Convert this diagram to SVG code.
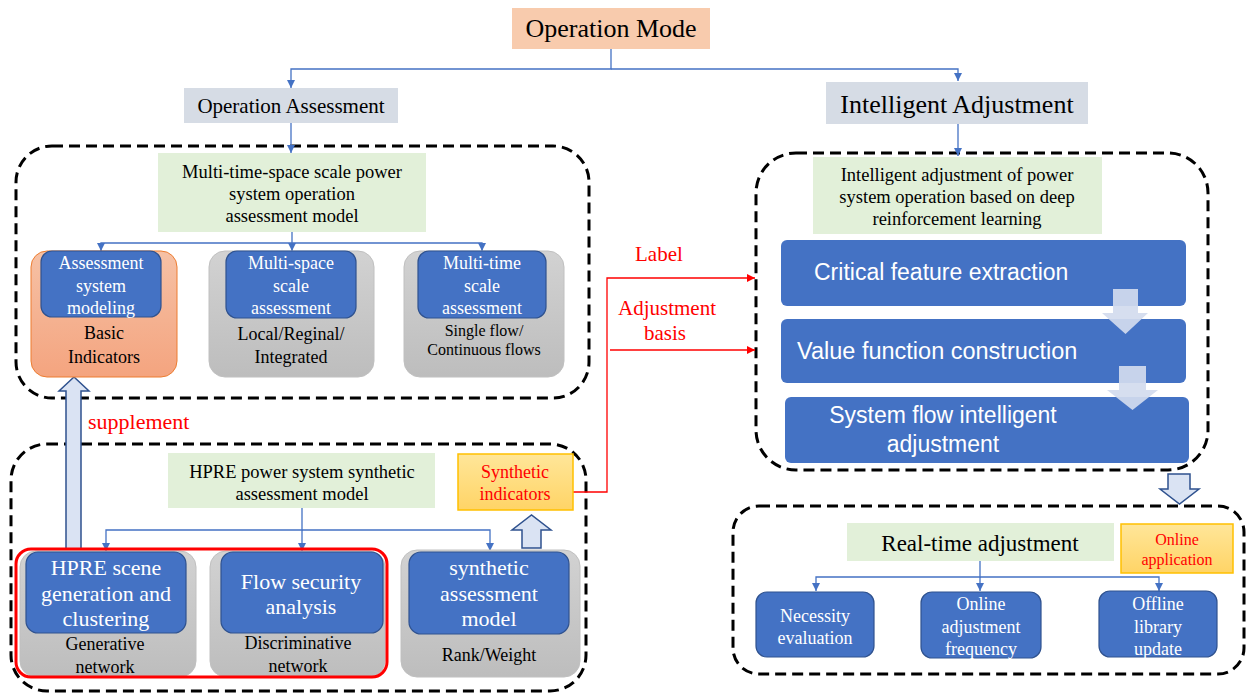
<svg xmlns="http://www.w3.org/2000/svg" width="1249" height="696" viewBox="0 0 1249 696">
<style>
.serif{font-family:"Liberation Serif","Times New Roman",serif;}
.sans{font-family:"Liberation Sans",Arial,sans-serif;}
.c{text-anchor:middle;}
.wt{fill:#FFFFFF;}
.bk{fill:#000000;}
.rd{fill:#FF0000;}
.dash{fill:none;stroke:#000;stroke-width:3;stroke-dasharray:11 6;}
.conn{fill:none;stroke:#4472C4;stroke-width:1.3;}
.red{fill:none;stroke:#FF0000;stroke-width:1.3;}
.blue{fill:#4472C4;stroke:#2F528F;stroke-width:1.2;}
.drl{fill:#4472C4;}
.green{fill:#E2F0D9;}
.head{fill:#D6DCE5;}
.gray{fill:url(#gGray);stroke:#C0C0C0;stroke-width:1;}
.blk{fill:#DAE3F3;stroke:#2F528F;stroke-width:1.5;}
.lite{fill:#D3DBEE;opacity:0.92;}
.yel{fill:url(#gYel);stroke:#FFC000;stroke-width:1.5;}
</style>
<defs>
<linearGradient id="gGray" x1="0" y1="0" x2="0" y2="1"><stop offset="0" stop-color="#D2D2D2"/><stop offset="1" stop-color="#BDBDBD"/></linearGradient>
<linearGradient id="gOr" x1="0" y1="0" x2="0" y2="1"><stop offset="0" stop-color="#F6C1A5"/><stop offset="1" stop-color="#F4A47F"/></linearGradient>
<linearGradient id="gYel" x1="0" y1="0" x2="0" y2="1"><stop offset="0" stop-color="#FFE699"/><stop offset="1" stop-color="#FFD466"/></linearGradient>
<marker id="ab" viewBox="0 0 10 10" refX="10" refY="5" markerWidth="8" markerHeight="8" markerUnits="userSpaceOnUse" orient="auto"><path d="M0,0 L10,5 L0,10 Z" fill="#4472C4"/></marker>
<marker id="ar" viewBox="0 0 10 10" refX="10" refY="5" markerWidth="8" markerHeight="8" markerUnits="userSpaceOnUse" orient="auto"><path d="M0,0 L10,5 L0,10 Z" fill="#FF0000"/></marker>
</defs>
<rect width="1249" height="696" fill="#FFFFFF"/>

<!-- dashed containers -->
<g id="containers">
<rect class="dash" x="16" y="146" width="573" height="252" rx="36"/>
<rect class="dash" x="11" y="444" width="575" height="247" rx="36"/>
<rect class="dash" x="756" y="153" width="452" height="317" rx="40"/>
<rect class="dash" x="733" y="506" width="511" height="168" rx="26"/>
</g>

<!-- connectors -->
<g id="connectors">
<path class="conn" d="M611,49 V69 H291 V88" marker-end="url(#ab)"/>
<path class="conn" d="M611,69 H958 V81" marker-end="url(#ab)"/>
<path class="conn" d="M291,123 V153" marker-end="url(#ab)"/>
<path class="conn" d="M958,124 V156" marker-end="url(#ab)"/>
<path class="conn" d="M292,232 V243 H101 V251" marker-end="url(#ab)"/>
<path class="conn" d="M292,243 V251" marker-end="url(#ab)"/>
<path class="conn" d="M292,243 H482 V251" marker-end="url(#ab)"/>
<path class="conn" d="M302,508 V530 H106 V551" marker-end="url(#ab)"/>
<path class="conn" d="M302,530 V551" marker-end="url(#ab)"/>
<path class="conn" d="M302,530 H490 V551" marker-end="url(#ab)"/>
<path class="conn" d="M980,561 V577 H816 V591" marker-end="url(#ab)"/>
<path class="conn" d="M980,577 V591" marker-end="url(#ab)"/>
<path class="conn" d="M980,577 H1159 V591" marker-end="url(#ab)"/>
<path class="red" d="M573,492 H607 V278 H755" marker-end="url(#ar)"/>
<path class="red" d="M610,350 H755" marker-end="url(#ar)"/>
<polygon class="blk" points="66,549 66,391 59,391 74,377 89,391 81,391 81,549"/>
<polygon class="blk" points="522,548 522,530 512,530 531.5,515 551,530 541,530 541,548"/>
<polygon class="blk" points="1168,474 1190,474 1190,489 1199,489 1179.5,504 1160,489 1168,489"/>
</g>

<g id="operation-mode">
<rect x="512" y="8" width="198" height="41" fill="#F8CBAD"/>
<text class="serif c bk" x="611" y="37" font-size="26">Operation Mode</text>
</g>
<g id="operation-assessment">
<rect class="head" x="184" y="88" width="214" height="35"/>
<text class="serif c bk" x="291" y="113" font-size="21">Operation Assessment</text>
</g>
<g id="intelligent-adjustment">
<rect class="head" x="826" y="82" width="262" height="42"/>
<text class="serif c bk" x="957" y="113" font-size="26">Intelligent  Adjustment</text>
</g>

<g id="multi-scale-model">
<rect class="green" x="158" y="153" width="268" height="79"/>
<text class="serif c bk" font-size="18.5"><tspan x="292" y="178">Multi-time-space  scale power</tspan><tspan x="292" y="200">system operation</tspan><tspan x="292" y="222">assessment model</tspan></text>
</g>

<g id="basic-indicators">
<rect x="31" y="251" width="146" height="126" rx="16" fill="url(#gOr)" stroke="#ED7D31" stroke-width="1"/>
<text class="serif c bk" font-size="18"><tspan x="104" y="339">Basic</tspan><tspan x="104" y="363">Indicators</tspan></text>
</g>
<g id="assessment-system-modeling">
<rect class="blue" x="41" y="251" width="120" height="66" rx="11"/>
<text class="serif c wt" font-size="18"><tspan x="101" y="269">Assessment</tspan><tspan x="101" y="292">system</tspan><tspan x="101" y="314">modeling</tspan></text>
</g>
<g id="local-regional">
<rect class="gray" x="209" y="251" width="165" height="126" rx="16"/>
<text class="serif c bk" font-size="18"><tspan x="291" y="340">Local/Reginal/</tspan><tspan x="291" y="363">Integrated</tspan></text>
</g>
<g id="multi-space">
<rect class="blue" x="226" y="251" width="130" height="67" rx="11"/>
<text class="serif c wt" font-size="18"><tspan x="291" y="269">Multi-space</tspan><tspan x="291" y="292">scale</tspan><tspan x="291" y="314">assessment</tspan></text>
</g>
<g id="single-flow">
<rect class="gray" x="404" y="251" width="160" height="126" rx="16"/>
<text class="serif c bk" font-size="16"><tspan x="484" y="336">Single flow/</tspan><tspan x="484" y="355">Continuous  flows</tspan></text>
</g>
<g id="multi-time">
<rect class="blue" x="418" y="251" width="128" height="67" rx="11"/>
<text class="serif c wt" font-size="18"><tspan x="482" y="269">Multi-time</tspan><tspan x="482" y="292">scale</tspan><tspan x="482" y="314">assessment</tspan></text>
</g>

<g id="supplement-label">
<text class="serif rd" x="88" y="429" font-size="22">supplement</text>
</g>

<g id="hpre-model">
<rect class="green" x="168" y="453" width="267" height="55"/>
<text class="serif c bk" font-size="18.5"><tspan x="302" y="478">HPRE power system synthetic</tspan><tspan x="302" y="500">assessment  model</tspan></text>
</g>
<g id="synthetic-indicators">
<rect class="yel" x="458" y="454" width="115" height="56"/>
<text class="serif c rd" font-size="18"><tspan x="515" y="478">Synthetic</tspan><tspan x="515" y="500">indicators</tspan></text>
</g>

<g id="generative">
<rect class="gray" x="20" y="551" width="176" height="126" rx="16"/>
<text class="serif c bk" font-size="18"><tspan x="105" y="650">Generative</tspan><tspan x="105" y="673">network</tspan></text>
</g>
<g id="hpre-scene">
<rect class="blue" x="26" y="552" width="160" height="81" rx="12"/>
<text class="serif c wt" font-size="22"><tspan x="106" y="575">HPRE scene</tspan><tspan x="106" y="601">generation and</tspan><tspan x="106" y="626">clustering</tspan></text>
</g>
<g id="discriminative">
<rect class="gray" x="210" y="551" width="175" height="126" rx="16"/>
<text class="serif c bk" font-size="18"><tspan x="298" y="649">Discriminative</tspan><tspan x="298" y="672">network</tspan></text>
</g>
<g id="flow-security">
<rect class="blue" x="221" y="552" width="162" height="81" rx="12"/>
<text class="serif c wt" font-size="22"><tspan x="301" y="589">Flow security</tspan><tspan x="301" y="614">analysis</tspan></text>
</g>
<g id="red-group">
<rect x="16" y="549" width="371" height="128" rx="15" fill="none" stroke="#FF0000" stroke-width="3"/>
</g>
<g id="rank-weight">
<rect class="gray" x="401" y="550" width="179" height="127" rx="16"/>
<text class="serif c bk" x="489" y="661" font-size="18">Rank/Weight</text>
</g>
<g id="synthetic-model">
<rect class="blue" x="409" y="552" width="160" height="82" rx="12"/>
<text class="serif c wt" font-size="22"><tspan x="489" y="575">synthetic</tspan><tspan x="489" y="601">assessment</tspan><tspan x="489" y="626">model</tspan></text>
</g>

<g id="label-text">
<text class="serif rd" x="635" y="261" font-size="21">Label</text>
<text class="serif c rd" font-size="21"><tspan x="667" y="315">Adjustment</tspan><tspan x="665" y="340">basis</tspan></text>
</g>

<g id="drl-model">
<rect class="green" x="813" y="157" width="289" height="77"/>
<text class="serif c bk" font-size="18.5"><tspan x="957" y="181">Intelligent  adjustment of power</tspan><tspan x="957" y="203">system  operation based on deep</tspan><tspan x="957" y="225">reinforcement learning</tspan></text>
</g>
<g id="critical-feature">
<rect class="drl" x="781" y="240" width="405" height="66" rx="6"/>
<text class="sans wt" x="814" y="280" font-size="23">Critical feature extraction</text>
</g>
<g id="value-function">
<rect class="drl" x="781" y="319" width="405" height="64" rx="6"/>
<text class="sans wt" x="797" y="359" font-size="23.5">Value function construction</text>
</g>
<g id="system-flow">
<rect class="drl" x="785" y="397" width="404" height="66" rx="6"/>
<text class="sans c wt" font-size="23"><tspan x="943" y="423">System flow intelligent</tspan><tspan x="943" y="452">adjustment</tspan></text>
</g>
<g id="drl-arrows">
<polygon class="lite" points="1113,289 1138,289 1138,313 1148,313 1125.5,334 1102,313 1113,313"/>
<polygon class="lite" points="1119,366 1146,366 1146,390 1158,390 1132.5,410 1107,390 1119,390"/>
</g>

<g id="real-time">
<rect class="green" x="847" y="523" width="267" height="38"/>
<text class="serif c bk" x="980" y="551" font-size="23">Real-time  adjustment</text>
</g>
<g id="online-application">
<rect class="yel" x="1121" y="524" width="112" height="49"/>
<text class="serif c rd" font-size="16"><tspan x="1177" y="545">Online</tspan><tspan x="1177" y="565">application</tspan></text>
</g>
<g id="necessity">
<rect class="blue" x="756" y="592" width="118" height="65" rx="11"/>
<text class="serif c wt" font-size="18"><tspan x="815" y="622">Necessity</tspan><tspan x="815" y="644">evaluation</tspan></text>
</g>
<g id="online-adjustment">
<rect class="blue" x="921" y="592" width="120" height="66" rx="11"/>
<text class="serif c wt" font-size="18"><tspan x="981" y="610">Online</tspan><tspan x="981" y="633">adjustment</tspan><tspan x="981" y="655">frequency</tspan></text>
</g>
<g id="offline-library">
<rect class="blue" x="1099" y="591" width="118" height="66" rx="11"/>
<text class="serif c wt" font-size="18"><tspan x="1158" y="610">Offline</tspan><tspan x="1158" y="633">library</tspan><tspan x="1158" y="655">update</tspan></text>
</g>
</svg>
